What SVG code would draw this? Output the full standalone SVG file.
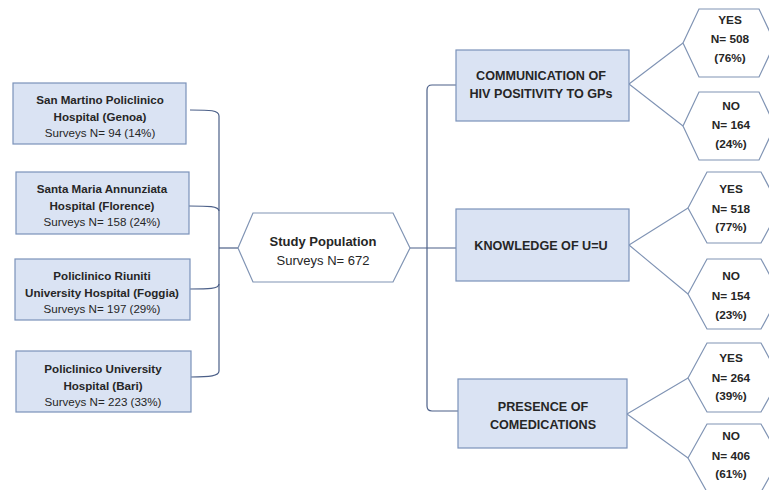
<svg xmlns="http://www.w3.org/2000/svg" width="769" height="490" viewBox="0 0 769 490">
<style>
.box{fill:#dae3f3;stroke:#7b92ba;stroke-width:1.2}
.hex{fill:#ffffff;stroke:#8094b4;stroke-width:1.2}
.ln{fill:none;stroke:#4b5f88;stroke-width:1.2}
.br{fill:none;stroke:#7f93b4;stroke-width:1.1}
text{font-family:"Liberation Sans",Arial,sans-serif;fill:#262626;text-anchor:middle}
.b{font-weight:bold}
.s{font-size:11.6px}
.m{font-size:12.6px}
.h{font-size:11.8px;font-weight:bold}
</style>
<rect width="769" height="490" fill="#ffffff"/>
<g id="connectors">
<path class="ln" d="M190,110 C210,110 219,110 219,116 L219,371 C219,376 210,377 191,377"/>
<path class="ln" d="M189,206 C208,206 219,206 219,211"/>
<path class="ln" d="M190,289 C208,289 219,289 219,284"/>
<path class="ln" d="M219,248 L238,248"/>
<path class="ln" d="M410,248 L456,248"/>
<path class="ln" d="M456,85 L432,85 C428,85 427,87 427,90 L427,406 C427,409 428,411 432,411 L458,411"/>
<path class="br" d="M629,84 L683,43 M629,84 L683,126"/>
<path class="br" d="M629,245 L688,208 M629,245 L688,294"/>
<path class="br" d="M627,414 L688,378 M627,414 L688,458"/>
</g>
<g id="genoa">
<rect class="box" x="13" y="83" width="173" height="61"/>
<text class="b s" x="100" y="104">San Martino Policlinico</text>
<text class="b s" x="100" y="121">Hospital (Genoa)</text>
<text class="s" x="100" y="137">Surveys N= 94 (14%)</text>
</g>
<g id="florence">
<rect class="box" x="16" y="172" width="173" height="62"/>
<text class="b s" x="102" y="193">Santa Maria Annunziata</text>
<text class="b s" x="102" y="210">Hospital (Florence)</text>
<text class="s" x="102" y="226">Surveys N= 158 (24%)</text>
</g>
<g id="foggia">
<rect class="box" x="15" y="259" width="175" height="61"/>
<text class="b s" x="102" y="280">Policlinico Riuniti</text>
<text class="b s" x="102" y="297">University Hospital (Foggia)</text>
<text class="s" x="102" y="313">Surveys N= 197 (29%)</text>
</g>
<g id="bari">
<rect class="box" x="16" y="351" width="175" height="61"/>
<text class="b s" x="103" y="373">Policlinico University</text>
<text class="b s" x="103" y="390">Hospital (Bari)</text>
<text class="s" x="103" y="406">Surveys N= 223 (33%)</text>
</g>
<g id="study">
<polygon class="hex" points="238,248 253,213 393,213 410,248 393,282 253,282"/>
<text class="b" x="323" y="246" font-size="13px">Study Population</text>
<text x="323" y="265" font-size="13px">Surveys N= 672</text>
</g>
<g id="communication">
<rect class="box" x="456" y="50" width="173" height="71"/>
<text class="b m" x="541" y="80">COMMUNICATION OF</text>
<text class="b m" x="541" y="98">HIV POSITIVITY TO GPs</text>
</g>
<g id="knowledge">
<rect class="box" x="456" y="209" width="173" height="72"/>
<text class="b m" x="541" y="250">KNOWLEDGE OF U=U</text>
</g>
<g id="presence">
<rect class="box" x="458" y="379" width="169" height="69"/>
<text class="b m" x="543" y="411">PRESENCE OF</text>
<text class="b m" x="543" y="429">COMEDICATIONS</text>
</g>
<g id="yes1">
<polygon class="hex" points="683,43 699,9 759,9 775,43 759,77 699,77"/>
<text class="h" x="730" y="24">YES</text>
<text class="h" x="730" y="43">N= 508</text>
<text class="h" x="730" y="62">(76%)</text>
</g>
<g id="no1">
<polygon class="hex" points="683,126 699,92 759,92 775,126 759,160 699,160"/>
<text class="h" x="731" y="110">NO</text>
<text class="h" x="731" y="129">N= 164</text>
<text class="h" x="731" y="148">(24%)</text>
</g>
<g id="yes2">
<polygon class="hex" points="688,208 707,172 761,172 780,208 761,243 707,243"/>
<text class="h" x="731" y="193">YES</text>
<text class="h" x="731" y="213">N= 518</text>
<text class="h" x="731" y="231">(77%)</text>
</g>
<g id="no2">
<polygon class="hex" points="688,294 707,259 761,259 780,294 761,329 707,329"/>
<text class="h" x="731" y="280">NO</text>
<text class="h" x="731" y="300">N= 154</text>
<text class="h" x="731" y="319">(23%)</text>
</g>
<g id="yes3">
<polygon class="hex" points="688,378 707,343 761,343 780,378 761,412 707,412"/>
<text class="h" x="731" y="362">YES</text>
<text class="h" x="731" y="382">N= 264</text>
<text class="h" x="731" y="400">(39%)</text>
</g>
<g id="no3">
<polygon class="hex" points="688,458 707,424 761,424 780,458 761,492 707,492"/>
<text class="h" x="731" y="440">NO</text>
<text class="h" x="731" y="460">N= 406</text>
<text class="h" x="731" y="478">(61%)</text>
</g>
</svg>
